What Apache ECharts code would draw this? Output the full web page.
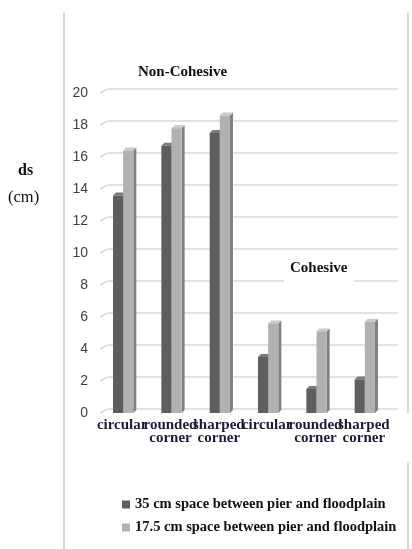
<!DOCTYPE html>
<html>
<head>
<meta charset="utf-8">
<script src="https://cdn.jsdelivr.net/npm/echarts@6/dist/echarts.min.js"></script>
<style>
html,body{margin:0;padding:0;background:#fff;}
#chart{width:412px;height:549px;}
</style>
</head>
<body>
<div id="chart"></div>
<script>
var categories = ['circular', 'rounded\ncorner', 'sharped\ncorner', 'circular', 'rounded\ncorner', 'sharped\ncorner'];
var space35 = [13.6, 16.7, 17.5, 3.5, 1.5, 2.1];
var space175 = [16.4, 17.8, 18.6, 5.6, 5.1, 5.7];
var yTicks = [0, 2, 4, 6, 8, 10, 12, 14, 16, 18, 20];

var DEPTH = 3;
function makeBar(front, top, side, first) {
  return function (params, api) {
    var idx = api.value(0);
    var v = api.value(1);
    var base = api.coord([idx, 0]);
    var topP = api.coord([idx, v]);
    var band = api.size([1, 0])[0];
    var w = band * 0.21;
    var c = base[0] + 1;
    var x0 = first ? c - w : c;
    var y0 = base[1];
    var yt = topP[1];
    var d = DEPTH;
    return {
      type: 'group',
      children: [
        {type: 'polygon', shape: {points: [[x0 + w, yt], [x0 + w + d, yt - d], [x0 + w + d, y0 - d], [x0 + w, y0]]}, style: {fill: side}},
        {type: 'polygon', shape: {points: [[x0, yt], [x0 + d, yt - d], [x0 + w + d, yt - d], [x0 + w, yt]]}, style: {fill: top}},
        {type: 'rect', shape: {x: x0, y: yt, width: w, height: y0 - yt}, style: {fill: front}}
      ]
    };
  };
}

function gridItem(params, api) {
  var p = api.coord([0, api.value(1)]);
  var cs = params.coordSys;
  var y = p[1];
  var st = {stroke: '#d9d9d9', lineWidth: 1.5};
  return {
    type: 'group',
    children: [
      {type: 'line', shape: {x1: cs.x + 2, y1: y, x2: cs.x + 10, y2: y - 4}, style: st},
      {type: 'line', shape: {x1: cs.x + 10, y1: y - 4, x2: cs.x + cs.width + 10, y2: y - 4}, style: st}
    ]
  };
}

var chart = echarts.init(document.getElementById('chart'), null, {renderer: 'canvas'});
var serif = "'Liberation Serif', 'Times New Roman', serif";
chart.setOption({
  backgroundColor: '#fff',
  animation: false,
  grid: {left: 98, top: 93, width: 290, height: 320, containLabel: false},
  xAxis: {
    type: 'category',
    data: categories,
    axisLine: {show: false},
    axisTick: {show: false},
    axisLabel: {interval: 0, margin: 6, fontFamily: serif, fontWeight: 'bold', fontSize: 15, lineHeight: 12.5, color: '#1c1c3a'}
  },
  yAxis: {
    type: 'value',
    min: 0, max: 20, interval: 2,
    axisLine: {show: false},
    axisTick: {show: false},
    splitLine: {show: false},
    axisLabel: {margin: 10, fontFamily: "'Liberation Sans', Arial, sans-serif", fontSize: 14, color: '#404040'}
  },
  legend: {
    orient: 'vertical',
    left: 117, top: 492,
    itemWidth: 8, itemHeight: 8, itemGap: 8,
    icon: 'rect',
    textStyle: {fontFamily: serif, fontWeight: 'bold', fontSize: 14.5, lineHeight: 14, color: '#111'},
    data: ['35 cm space between pier and floodplain', '17.5 cm space between pier and floodplain']
  },
  series: [
    {
      type: 'custom', name: 'grid', silent: true, z: 1,
      data: yTicks.map(function (v) { return [0, v]; }),
      renderItem: gridItem
    },
    {
      type: 'custom', name: '35 cm space between pier and floodplain', z: 3,
      itemStyle: {color: '#5e5e5e'},
      data: space35.map(function (v, i) { return [i, v]; }),
      renderItem: makeBar('#5e5e5e', '#7a7a7a', '#404040', true)
    },
    {
      type: 'custom', name: '17.5 cm space between pier and floodplain', z: 4,
      itemStyle: {color: '#b1b1b1'},
      data: space175.map(function (v, i) { return [i, v]; }),
      renderItem: makeBar('#b1b1b1', '#c9c9c9', '#808080', false)
    }
  ],
  graphic: [
    {type: 'line', shape: {x1: 64, y1: 12, x2: 64, y2: 549}, style: {stroke: '#d9d9d9', lineWidth: 2}, silent: true},
    {type: 'line', shape: {x1: 408, y1: 12, x2: 408, y2: 413}, style: {stroke: '#d9d9d9', lineWidth: 2}, silent: true},
    {type: 'line', shape: {x1: 408, y1: 462, x2: 408, y2: 549}, style: {stroke: '#d9d9d9', lineWidth: 2}, silent: true},
    {type: 'text', left: 18, top: 163, style: {text: 'ds', font: "bold 16px " + serif, fill: '#111'}, z: 10},
    {type: 'text', left: 8, top: 189, style: {text: '(cm)', font: "16.5px " + serif, fill: '#111'}, z: 10},
    {type: 'text', left: 138, top: 65, style: {text: 'Non-Cohesive', font: "bold 15px " + serif, fill: '#111'}, z: 10},
    {type: 'text', left: 284, top: 259, style: {text: 'Cohesive', font: "bold 15px " + serif, fill: '#111', backgroundColor: '#fff', padding: [2, 6, 6, 6]}, z: 10}
  ]
});
</script>
</body>
</html>
